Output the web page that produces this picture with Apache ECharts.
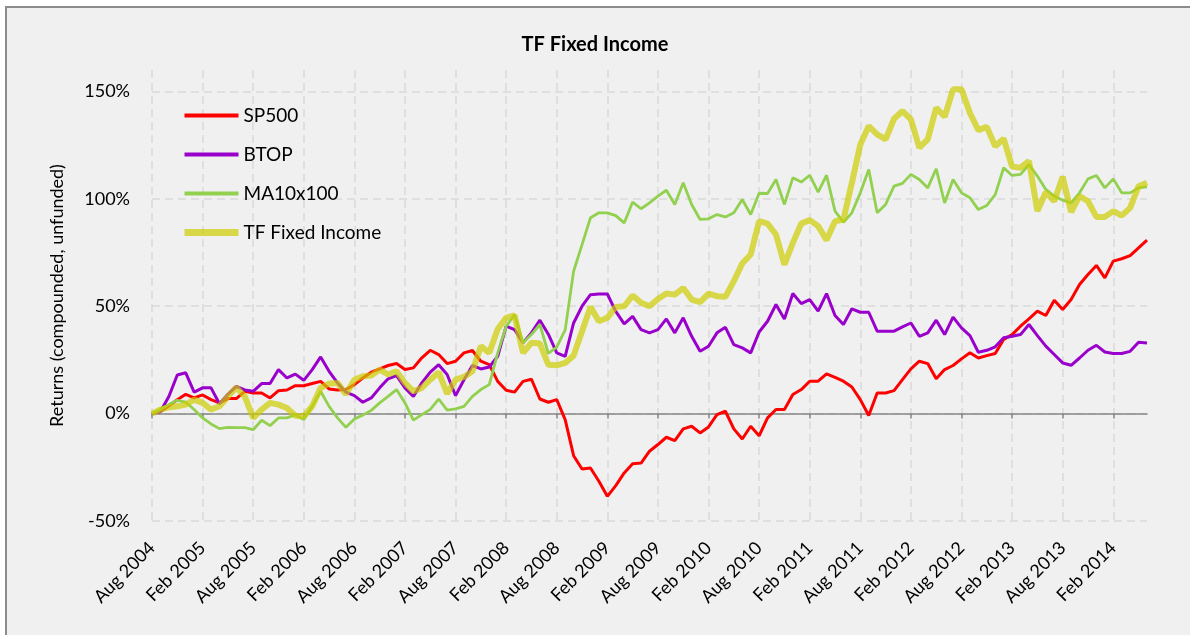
<!DOCTYPE html>
<html>
<head>
<meta charset="utf-8">
<script src="https://cdn.jsdelivr.net/npm/echarts@6/dist/echarts.min.js"></script>
<style>
  html, body { margin: 0; padding: 0; background: #ffffff; }
  #frame {
    position: absolute; left: 5px; top: 6px; width: 1200px; height: 700px;
    background: #f0f0f0; border-left: 2px solid #8c8c8c; border-top: 2px solid #8c8c8c;
  }
  #main { position: absolute; left: 0; top: 0; width: 1190px; height: 635px; }
</style>
</head>
<body>
<div id="frame"></div>
<div id="main"></div>
<script>
// monthly points, Aug 2004 .. Jun 2014
var startYear = 2004, startMonth = 7, nMonths = 119;
var monthNames = ['Jan', 'Feb', 'Mar', 'Apr', 'May', 'Jun', 'Jul', 'Aug', 'Sep', 'Oct', 'Nov', 'Dec'];
var months = [];
for (var k = 0; k < nMonths; k++) {
  var m = startMonth + k;
  months.push(monthNames[m % 12] + ' ' + (startYear + Math.floor(m / 12)));
}

var sp500 = [0, 1, 3.7, 6.5, 9, 7.3, 8.7, 6.5, 5, 7, 7, 10.4, 9.6, 9.6, 7.3, 10.7, 11, 13, 13, 14,
  15, 11.5, 11, 11.2, 13.5, 16.6, 19.3, 20.8, 22.4, 23.3, 20.5, 21.3, 26, 29.5, 27.5, 23.3, 24.4, 28.3, 29.4, 24.4,
  22.8, 15, 10.9, 10, 15, 16, 6.8, 5.3, 6.5, -2.8, -19.6, -25.8, -25.3, -31.5, -38.5, -33.5, -27.6, -23.3, -23, -17.5,
  -14.4, -11, -12.6, -7.1, -5.9, -9, -6.2, -0.5, 1.1, -7.1, -11.8, -5.9, -10.3, -2, 1.9, 1.9, 8.9, 11.2, 15.1, 15.1,
  18.5, 16.9, 15.1, 12.4, 6.5, -0.9, 9.6, 9.6, 10.7, 15.8, 20.8, 24.4, 23.3, 16.2, 20.5, 22.4, 25.5, 28.3, 25.9, 27,
  28, 34.5, 36.8, 40.7, 44.1, 47.7, 45.7, 52.8, 48.5, 53.1, 60.1, 64.8, 69, 63.2, 71, 72.1, 73.6, 77.2, 80.8];

var btop = [0, 1, 8, 18, 19, 10, 12, 12, 4.6, 9, 12.7, 11, 10.4, 14, 14, 20.5, 16.6, 18.4, 15.5, 20.5,
  26.4, 19.7, 14.3, 10, 8.4, 5.3, 7.3, 12, 16.2, 17.7, 12, 8, 14.3, 19.3, 22.8, 18.2, 8.4, 15.8, 22.4, 20.8,
  21.7, 26.7, 40.7, 39.1, 33, 37.6, 43.5, 37, 28.3, 26.7, 42.2, 50, 55.4, 55.7, 55.7, 47.6, 41.8, 45.3, 39.1, 37.6,
  39.1, 44.1, 37.6, 44.6, 36, 29, 31.4, 37.6, 40.2, 32.1, 30.6, 28.3, 38, 43, 50.8, 44.1, 55.9, 51.2, 53.1, 47.7,
  55.9, 45.7, 41.5, 48.8, 47.2, 47.2, 38.4, 38.4, 38.4, 40.4, 42.2, 36, 37.6, 43.5, 36.8, 44.9, 39.9, 36.3, 28.6, 29.5,
  31.1, 35.3, 36, 36.8, 41.5, 36.3, 31.4, 27.5, 23.6, 22.5, 25.9, 29.5, 31.8, 28.7, 28, 28, 29, 33.2, 32.9];

var ma10x100 = [0, 1.9, 4.2, 6.2, 5.3, 1.9, -2, -4.8, -7, -6.4, -6.5, -6.5, -7.5, -3.1, -5.6, -2, -2, -0.5, -2.8, 3.4,
  10.4, 3.4, -2, -6.4, -2.5, -0.7, 1.5, 5, 8, 11.2, 5, -3, -0.5, 2, 6.8, 1.6, 2.2, 3.4, 8, 11.2,
  13.5, 28.3, 40.7, 46, 33, 36.8, 41.5, 28, 31, 39, 66.3, 78.7, 91.2, 93.5, 93.5, 92.2, 88.8, 98.5, 95.4, 98.1,
  101.3, 104, 97.4, 107.5, 97.4, 90.4, 90.7, 92.7, 91.6, 93.5, 99.7, 92.7, 102.6, 102.5, 109, 97.4, 109.8, 107.8, 111, 103.1,
  111, 94.3, 89.1, 93.5, 102.8, 113.7, 93.5, 97.4, 105.9, 107.2, 111.4, 109, 105.1, 114, 98.1, 109, 102.8, 100.5, 95, 96.9,
  102, 114.5, 110.9, 111.4, 116, 110.6, 104.4, 101.3, 99.4, 98.1, 102.8, 109.3, 110.9, 105.1, 109.3, 102.8, 102.8, 105.1, 105.6];

var tfFixedIncome = [0, 1.9, 3, 3.4, 4.2, 6.5, 5, 1.9, 3.4, 8, 12.3, 8, -2, 1.9, 5, 4.2, 2.6, -1, -1.2, 3.4,
  12, 14, 14.3, 9, 15.8, 17.4, 17.7, 20.5, 18.2, 19.7, 14.3, 10.4, 12, 15.8, 19.3, 9.3, 15.8, 17.1, 19.7, 31.4,
  28.3, 39.4, 44.6, 45.7, 28.3, 33, 32.6, 22.8, 22.5, 23.6, 27, 38.4, 49.7, 43, 44.6, 49.7, 50, 55, 51.6, 50,
  53.4, 55.9, 55.4, 58.5, 53.1, 51.9, 55.9, 54.7, 54.4, 61.7, 69.9, 74.1, 89.6, 88.5, 83.4, 69.4, 79.5, 88.5, 90.1, 87.3,
  80.8, 89.6, 90.4, 107.5, 125.3, 133.9, 130, 127.7, 137.3, 140.9, 137, 123.8, 127.7, 142.4, 138.2, 151, 151, 140, 132, 133.5,
  124.5, 128, 115, 114.5, 117.6, 94.3, 103.1, 98.9, 110.3, 93.8, 101.3, 98.9, 91.6, 91.6, 94.3, 92.2, 95.8, 105.9, 107.5];

var yMin = -50, yMax = 160, yStep = 50;
var font = 'Lato, "Open Sans", sans-serif';
var gridColor = '#d9d9d9';

function makeLine(name, data, color, width) {
  return {
    name: name,
    type: 'line',
    data: data,
    symbol: 'none',
    xAxisIndex: 0,
    lineStyle: { color: color, width: width },
    itemStyle: { color: color },
    emphasis: { disabled: true }
  };
}

var chart = echarts.init(document.getElementById('main'), null, { renderer: 'canvas' });
chart.setOption({
  animation: false,
  backgroundColor: 'transparent',
  textStyle: { fontFamily: font },
  title: {
    text: 'TF Fixed Income',
    left: 'center',
    top: 30,
    textStyle: { fontFamily: font, fontSize: 20, fontWeight: 'bold', color: '#000' }
  },
  legend: {
    orient: 'vertical',
    left: 176,
    top: 101,
    itemWidth: 54,
    itemHeight: 20,
    itemGap: 20,
    itemStyle: { opacity: 0 },
    textStyle: { fontFamily: font, fontSize: 19, color: '#000' },
    data: [
      { name: 'SP500', lineStyle: { width: 4 } },
      { name: 'BTOP', lineStyle: { width: 4 } },
      { name: 'MA10x100', lineStyle: { width: 4 } },
      { name: 'TF Fixed Income', lineStyle: { width: 7 } }
    ]
  },
  grid: { left: 152, right: 43, top: 70, bottom: 114 },
  xAxis: [{
    type: 'category',
    data: months,
    boundaryGap: false,
    axisLine: { show: false, onZero: false },
    axisTick: { show: false },
    axisLabel: {
      interval: 5, rotate: 45, margin: 24,
      fontFamily: font, fontSize: 18, color: '#000'
    },
    splitLine: {
      show: true, interval: 5,
      lineStyle: { color: gridColor, type: [8, 5], width: 1.5 }
    }
  }, {
    type: 'category',
    data: months,
    boundaryGap: false,
    position: 'bottom',
    axisLine: { show: true, onZero: true, lineStyle: { color: '#868686', width: 1.5 } },
    axisTick: { show: true, interval: 5, length: 5, lineStyle: { color: '#868686', width: 1.5 } },
    axisLabel: { show: false },
    splitLine: { show: false }
  }],
  yAxis: {
    type: 'value',
    min: yMin,
    max: yMax,
    interval: yStep,
    name: 'Returns (compounded, unfunded)',
    nameLocation: 'middle',
    nameRotate: 90,
    nameGap: 86,
    nameTextStyle: { fontFamily: font, fontSize: 18, color: '#000' },
    axisLine: { show: false },
    axisTick: { show: false },
    axisLabel: {
      margin: 22, fontFamily: font, fontSize: 18, color: '#000',
      formatter: function (v) { return v > 150 ? '' : v + '%'; }
    },
    splitLine: {
      show: true,
      lineStyle: {
        color: [gridColor, gridColor, gridColor, gridColor, gridColor, 'rgba(0,0,0,0)'],
        type: [8, 5], width: 1.5
      }
    }
  },
  series: [
    makeLine('SP500', sp500, '#ff0000', 3),
    makeLine('BTOP', btop, '#9900cc', 3),
    makeLine('MA10x100', ma10x100, '#92d050', 2.8),
    makeLine('TF Fixed Income', tfFixedIncome, 'rgba(204,204,0,0.7)', 6)
  ]
});
</script>
</body>
</html>
